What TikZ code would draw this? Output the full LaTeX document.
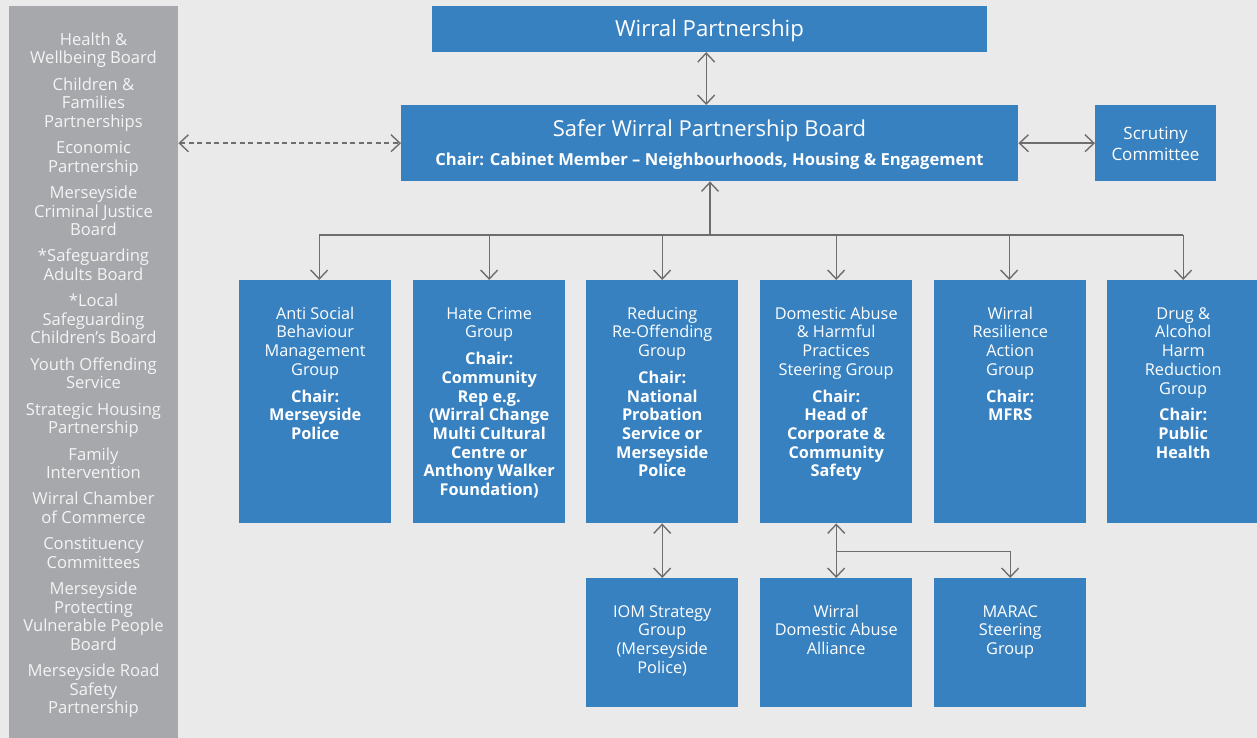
\documentclass[tikz,border=0pt]{standalone}
\usepackage{fontspec}
\setmainfont{Open Sans}
\usetikzlibrary{arrows.meta}
\definecolor{bgcol}{HTML}{EAEAEA}
\definecolor{boxblue}{HTML}{3781C1}
\definecolor{sidegrey}{HTML}{A7A8AC}
\definecolor{linegrey}{HTML}{6D6E70}
\definecolor{sidetext}{HTML}{F4F4F4}
\newcommand\firstln{\rule{0pt}{13pt}}
\newcommand\bl[1]{\textbf{#1}}
\begin{document}
\begin{tikzpicture}[x=1pt,y=-1pt,
  bluebox/.style={fill=boxblue, draw=none, inner sep=0pt, anchor=north west},
  boxtext/.style={text=white, align=center, inner sep=0pt, anchor=north, font=\fontsize{16.3}{18.7}\selectfont},
  sidetxt/.style={text=sidetext, align=center, inner sep=0pt, anchor=north, font=\fontsize{16.6}{18.55}\selectfont},
  barb/.tip={Straight Barb[length=9pt,width=17pt]},
  plain/.style={draw=linegrey, line width=1.4pt},
  conn/.style={plain, -barb},
  biconn/.style={plain, barb-barb},
  dashconn/.style={plain, barb-barb, dash pattern=on 5pt off 3.5pt}]
\useasboundingbox (0,0) rectangle (1257,738);
\fill[bgcol] (0,0) rectangle (1257,738);

% left column
\node[fill=sidegrey, inner sep=0pt, anchor=north west, minimum width=169pt, minimum height=740pt] (side) at (9,6) {};
\node[sidetxt] (sidet) at (93.5,32) {\firstln Health \&\\Wellbeing Board\\[7.8pt]
Children \&\\Families\\Partnerships\\[7.8pt]
Economic\\Partnership\\[7.8pt]
Merseyside\\Criminal Justice\\Board\\[7.8pt]
*Safeguarding\\Adults Board\\[7.8pt]
*Local\\Safeguarding\\Children’s Board\\[7.8pt]
Youth Offending\\Service\\[7.8pt]
Strategic Housing\\Partnership\\[7.8pt]
Family\\Intervention\\[7.8pt]
Wirral Chamber\\of Commerce\\[7.8pt]
Constituency\\Committees\\[7.8pt]
Merseyside\\Protecting\\Vulnerable People\\Board\\[7.8pt]
Merseyside Road\\Safety\\Partnership};

% top boxes
\node[bluebox, minimum width=555pt, minimum height=45.7pt] (wp) at (432,6) {};
\node[text=white, inner sep=0pt, anchor=base, font=\fontsize{22.2}{26}\selectfont] (wpt) at (709.5,36.7) {Wirral Partnership};

\node[bluebox, minimum width=617pt, minimum height=76pt] (swp) at (401,105) {};
\node[text=white, inner sep=0pt, anchor=base, font=\fontsize{22}{26}\selectfont] (swpt) at (709.5,136.7) {Safer Wirral Partnership Board};
\node[text=white, inner sep=0pt, anchor=base, font=\fontsize{16.6}{19}\selectfont\bfseries] (swpc) at (709.5,165.7) {Chair: Cabinet Member – Neighbourhoods, Housing \& Engagement};

\node[bluebox, minimum width=121pt, minimum height=76pt] (scr) at (1095,105) {};
\node[text=white, align=center, inner sep=0pt, anchor=north, font=\fontsize{17}{21}\selectfont] (scrt) at (1155.5,126.3) {\firstln Scrutiny\\Committee};

% first row
\node[bluebox, minimum width=152pt, minimum height=243pt] (asb) at (239,280) {};
\node[bluebox, minimum width=152pt, minimum height=243pt] (hate) at (413,280) {};
\node[bluebox, minimum width=152pt, minimum height=243pt] (rro) at (586,280) {};
\node[bluebox, minimum width=152pt, minimum height=243pt] (dah) at (760,280) {};
\node[bluebox, minimum width=152pt, minimum height=243pt] (wra) at (934,280) {};
\node[bluebox, minimum width=152pt, minimum height=243pt] (dahr) at (1107,280) {};

\node[boxtext] (asbt) at ([yshift=-26pt]asb.north) {\firstln Anti Social\\Behaviour\\Management\\Group\\[8pt]\bl{Chair:}\\\bl{Merseyside}\\\bl{Police}};
\node[boxtext] (hatet) at ([yshift=-26pt]hate.north) {\firstln Hate Crime\\Group\\[8pt]\bl{Chair:}\\\bl{Community}\\\bl{Rep e.g.}\\\bl{(Wirral Change}\\\bl{Multi Cultural}\\\bl{Centre or}\\\bl{Anthony Walker}\\\bl{Foundation)}};
\node[boxtext] (rrot) at ([yshift=-26pt]rro.north) {\firstln Reducing\\Re-Offending\\Group\\[8pt]\bl{Chair:}\\\bl{National}\\\bl{Probation}\\\bl{Service or}\\\bl{Merseyside}\\\bl{Police}};
\node[boxtext] (daht) at ([yshift=-26pt]dah.north) {\firstln Domestic Abuse\\\& Harmful\\Practices\\Steering Group\\[8pt]\bl{Chair:}\\\bl{Head of}\\\bl{Corporate \&}\\\bl{Community}\\\bl{Safety}};
\node[boxtext] (wrat) at ([yshift=-26pt]wra.north) {\firstln Wirral\\Resilience\\Action\\Group\\[8pt]\bl{Chair:}\\\bl{MFRS}};
\node[boxtext] (dahrt) at ([yshift=-26pt]dahr.north) {\firstln Drug \&\\Alcohol\\Harm\\Reduction\\Group\\[8pt]\bl{Chair:}\\\bl{Public}\\\bl{Health}};

% second row
\node[bluebox, minimum width=152pt, minimum height=128.7pt] (iom) at (586,578) {};
\node[bluebox, minimum width=152pt, minimum height=128.7pt] (wdaa) at (760,578) {};
\node[bluebox, minimum width=152pt, minimum height=128.7pt] (marac) at (934,578) {};
\node[boxtext] (iomt) at ([yshift=-26pt]iom.north) {\firstln IOM Strategy\\Group\\(Merseyside\\Police)};
\node[boxtext] (wdaat) at ([yshift=-26pt]wdaa.north) {\firstln Wirral\\Domestic Abuse\\Alliance};
\node[boxtext] (maract) at ([yshift=-26pt]marac.north) {\firstln MARAC\\Steering\\Group};

% connectors
\draw[biconn] ([xshift=-3.5pt]wp.south) -- ([xshift=-3.5pt]swp.north);
\draw[dashconn] (side.east |- swp.west) -- (swp.west);
\draw[biconn] (swp.east) -- (scr.west);

\coordinate (bus) at (710,235);
\draw[conn] (bus) -- (bus |- swp.south);
\draw[plain] ([xshift=4pt]asb.north |- bus) -- (dahr.north |- bus);
\draw[conn] ([xshift=4pt]asb.north |- bus) -- ([xshift=4pt]asb.north);
\draw[conn] (hate.north |- bus) -- (hate.north);
\draw[conn] (rro.north |- bus) -- (rro.north);
\draw[conn] (dah.north |- bus) -- (dah.north);
\draw[conn] ([xshift=-1pt]wra.north |- bus) -- ([xshift=-1pt]wra.north);
\draw[conn] (dahr.north |- bus) -- (dahr.north);

\draw[biconn] (rro.south) -- (iom.north);
\draw[biconn] (dah.south) -- (wdaa.north);
\coordinate (br) at (836,551.7);
\draw[conn] (br) -| (marac.north);
\end{tikzpicture}
\end{document}
